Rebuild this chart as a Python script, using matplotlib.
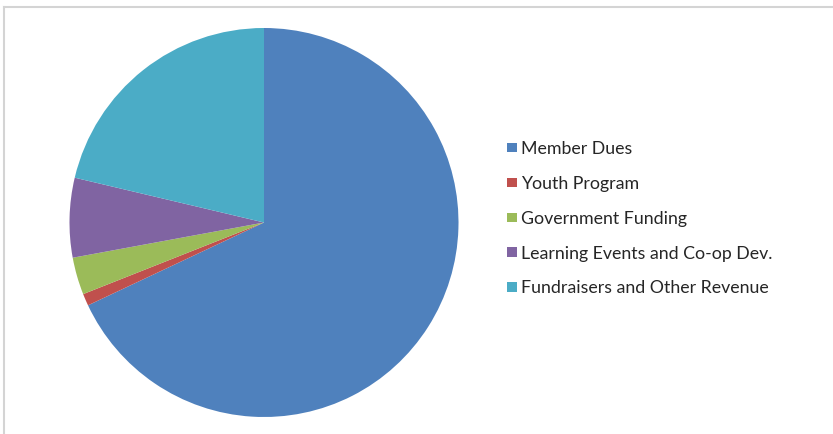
import matplotlib.pyplot as plt
from matplotlib.lines import Line2D

# revenue share by source (percent)
labels = ["Member Dues", "Youth Program", "Government Funding",
          "Learning Events and Co-op Dev.", "Fundraisers and Other Revenue"]
shares = [68.0, 1.0, 3.1, 6.6, 21.3]
colors = ["#4F81BD", "#C0504D", "#9BBB59", "#8064A2", "#4BACC6"]

W, H = 833, 434
fig = plt.figure(figsize=(W / 100, H / 100), dpi=100)
fig.patch.set_facecolor("white")

# thin grey frame on the top and left edges
fig.add_artist(Line2D([4 / W, 1], [1 - 7 / H, 1 - 7 / H], color="#d4d4d4", lw=1.5))
fig.add_artist(Line2D([4 / W, 4 / W], [0, 1 - 7 / H], color="#d4d4d4", lw=1.5))

cx, cy, r = 264, 222.5, 194.5
ax = fig.add_axes([(cx - r) / W, (H - cy - r) / H, 2 * r / W, 2 * r / H])
wedges, _ = ax.pie(shares, colors=colors, startangle=90, counterclock=False,
                   radius=1, wedgeprops=dict(linewidth=0))
ax.set_xlim(-1, 1)
ax.set_ylim(-1, 1)
ax.set_aspect("equal")
ax.axis("off")

leg = fig.legend(wedges, labels, loc="upper left",
                 bbox_to_anchor=(507 / W, 1 - 141 / H),
                 frameon=False, prop={"family": "Lato", "size": 12.8},
                 handlelength=0.56, handleheight=0.45, handletextpad=0.25,
                 labelspacing=1.06, borderpad=0, borderaxespad=0)
for t in leg.get_texts():
    t.set_color("#262626")

fig.savefig("out.png", dpi=100)
